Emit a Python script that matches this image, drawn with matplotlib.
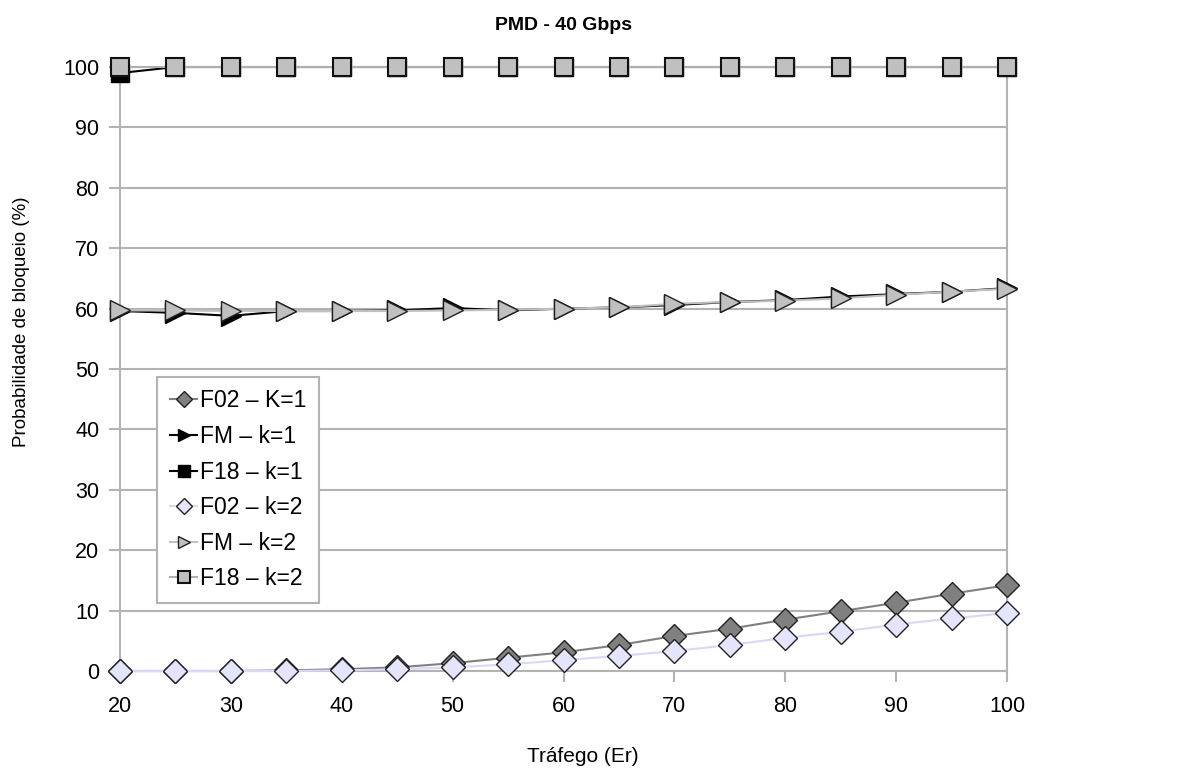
import matplotlib
matplotlib.use('Agg')
import matplotlib.pyplot as plt

plt.rcParams['font.family'] = ['Liberation Sans', 'DejaVu Sans']

# Data
trafego = [20, 25, 30, 35, 40, 45, 50, 55, 60, 65, 70, 75, 80, 85, 90, 95, 100]

f02_k1 = [0, 0, 0, 0.1, 0.3, 0.6, 1.3, 2.2, 3.1, 4.3, 5.8, 7.0, 8.5, 9.9, 11.3, 12.8, 14.2]
fm_k1 = [59.6, 59.3, 58.8, 59.6, 59.6, 59.7, 60.1, 59.7, 60.0, 60.2, 60.6, 61.1, 61.4, 62.0, 62.4, 62.8, 63.4]
f18_k1 = [99.0, 100, 100, 100, 100, 100, 100, 100, 100, 100, 100, 100, 100, 100, 100, 100, 100]
f02_k2 = [0, 0, 0, 0, 0.1, 0.3, 0.6, 1.1, 1.8, 2.5, 3.3, 4.3, 5.5, 6.5, 7.7, 8.7, 9.6]
fm_k2 = [59.7, 59.7, 59.6, 59.6, 59.6, 59.6, 59.7, 59.8, 60.0, 60.2, 60.8, 61.1, 61.3, 61.7, 62.3, 62.8, 63.3]
f18_k2 = [100] * 17

labels = ['F02 – K=1', 'FM – k=1', 'F18 – k=1', 'F02 – k=2', 'FM – k=2', 'F18 – k=2']

fig = plt.figure(figsize=(11.86, 7.72), dpi=100)
ax = fig.add_axes([0.1012, 0.1308, 0.7479, 0.7824])

grid_c = '#b3b3b3'

ax.plot(trafego, f02_k1, color='#808080', lw=1.5, marker='D', ms=12,
        mfc='#808080', mec='#222222', mew=1, label=labels[0], zorder=3)
ax.plot(trafego, fm_k1, color='black', lw=1.5, marker='>', ms=14,
        mfc='black', mec='black', label=labels[1], zorder=3)
ax.plot(trafego, f18_k1, color='black', lw=1.5, marker='s', ms=13,
        mfc='black', mec='black', label=labels[2], zorder=3)
ax.plot(trafego, f02_k2, color='#d8d8f8', lw=1.5, marker='D', ms=12,
        mfc='#e4e4fc', mec='#222222', mew=1, label=labels[3], zorder=4)
ax.plot(trafego, fm_k2, color='#c0c0c0', lw=1.5, marker='>', ms=14,
        mfc='#c0c0c0', mec='#222222', mew=1, label=labels[4], zorder=4)
ax.plot(trafego, f18_k2, color='#b0b0b0', lw=1.5, marker='s', ms=13,
        mfc='#c0c0c0', mec='#111111', mew=1.5, label=labels[5], zorder=4)

ax.set_xlim(20, 100)
ax.set_ylim(0, 100)
ax.set_xticks(range(20, 101, 10))
ax.set_yticks(range(0, 101, 10))
ax.yaxis.grid(True, color=grid_c, lw=1.5, zorder=0)
ax.set_axisbelow(True)
for side in ['left', 'bottom', 'right']:
    ax.spines[side].set_color(grid_c)
    ax.spines[side].set_linewidth(1.5)
ax.spines['top'].set_visible(False)
ax.tick_params(axis='both', colors=grid_c, labelcolor='black', labelsize=15.5,
               length=8, width=1.5, direction='out')
ax.tick_params(axis='x', pad=10)
ax.tick_params(axis='y', pad=7)

ax.set_title('PMD - 40 Gbps', fontsize=14, fontweight='bold', pad=27)
ax.set_xlabel('Tráfego (Er)', fontsize=15)
ax.set_ylabel('Probabilidade de bloqueio (%)', fontsize=13.5)
ax.xaxis.set_label_coords(0.522, -0.125)
ax.yaxis.set_label_coords(-0.101, 0.579)

leg = ax.legend(loc='upper left', bbox_to_anchor=(0.042, 0.487), fontsize=16.5,
                markerscale=0.65, handlelength=1.2, handletextpad=0.1,
                labelspacing=0.55, borderpad=0.55, borderaxespad=0,
                fancybox=False, framealpha=1, edgecolor=grid_c)
leg.get_frame().set_linewidth(1.5)

for line in ax.get_lines():
    line.set_clip_on(False)

fig.savefig('out.png', dpi=100)
